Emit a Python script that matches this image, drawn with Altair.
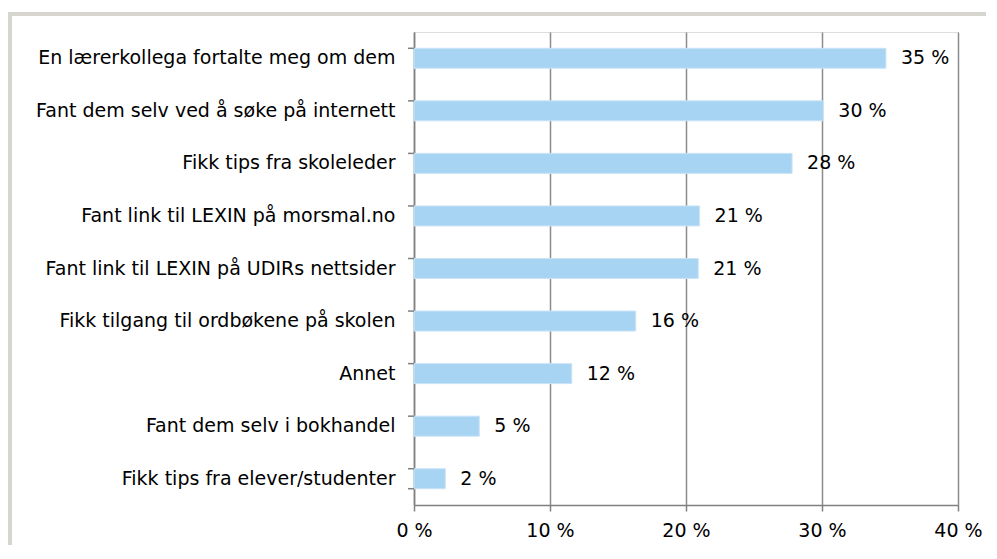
import altair as alt
import pandas as pd

categories = [
    "En lærerkollega fortalte meg om dem",
    "Fant dem selv ved å søke på internett",
    "Fikk tips fra skoleleder",
    "Fant link til LEXIN på morsmal.no",
    "Fant link til LEXIN på UDIRs nettsider",
    "Fikk tilgang til ordbøkene på skolen",
    "Annet",
    "Fant dem selv i bokhandel",
    "Fikk tips fra elever/studenter",
]
values = [34.7, 30.1, 27.8, 21.0, 20.9, 16.3, 11.6, 4.8, 2.3]
labels = ["35 %", "30 %", "28 %", "21 %", "21 %", "16 %", "12 %", "5 %", "2 %"]
x_ticks = [0, 10, 20, 30, 40]

df = pd.DataFrame({"cat": categories, "val": values, "lab": labels})

FONT = "DejaVu Sans"
FS = 19
W, H = 544, 473

yenc = alt.Y("cat:N", sort=categories, title=None,
             scale=alt.Scale(paddingInner=0.62, paddingOuter=0.31),
             axis=alt.Axis(ticks=False, domain=True, domainColor="#808080", domainWidth=1.5,
                           labelFont=FONT, labelFontSize=FS, labelColor="#000000",
                           labelPadding=19, labelLimit=420))
xenc = alt.X("val:Q", title=None,
             scale=alt.Scale(domain=[0, 40], nice=False, zero=True),
             axis=alt.Axis(values=x_ticks, labelExpr="datum.value + ' %'",
                           labelFlush=False,
                           grid=True, gridColor="#8c8c8c", gridWidth=1.5,
                           domainColor="#808080", domainWidth=1.5,
                           tickColor="#808080", tickWidth=1.5, tickSize=6,
                           labelFont=FONT, labelFontSize=FS, labelColor="#000000",
                           labelPadding=10))

frame = alt.Chart(pd.DataFrame({"d": [0]})).mark_rect(
    fill=None, stroke="#d6d6ce", strokeWidth=4, clip=False
).encode(x=alt.value(-404), x2=alt.value(700), y=alt.value(-18), y2=alt.value(700))

bars = alt.Chart(df).mark_bar(color="#a8d4f4", stroke="#c9e3f7", strokeWidth=1).encode(
    y=yenc, x=xenc
)

text = alt.Chart(df).mark_text(
    align="left", baseline="middle", dx=15, font=FONT, fontSize=FS, color="#000000"
).encode(y=alt.Y("cat:N", sort=categories), x=alt.X("val:Q"), text="lab:N")

ticks = alt.Chart(df).mark_rule(color="#808080", strokeWidth=1.5).encode(
    y=alt.Y("cat:N", sort=categories, bandPosition=0),
    x=alt.value(-6), x2=alt.value(0)
)
last_tick = alt.Chart(df.tail(1)).mark_rule(color="#808080", strokeWidth=1.5).encode(
    y=alt.Y("cat:N", sort=categories, bandPosition=1),
    x=alt.value(-6), x2=alt.value(0)
)

chart = alt.layer(frame, bars, text, ticks, last_tick).properties(
    width=W, height=H,
    autosize=alt.AutoSizeParams(type="none"),
    padding={"left": 406, "top": 24, "right": 28, "bottom": 40},
).configure_view(stroke=None).configure(background="#ffffff")

chart.save("out.html", embed_options={"renderer": "svg", "actions": False})
